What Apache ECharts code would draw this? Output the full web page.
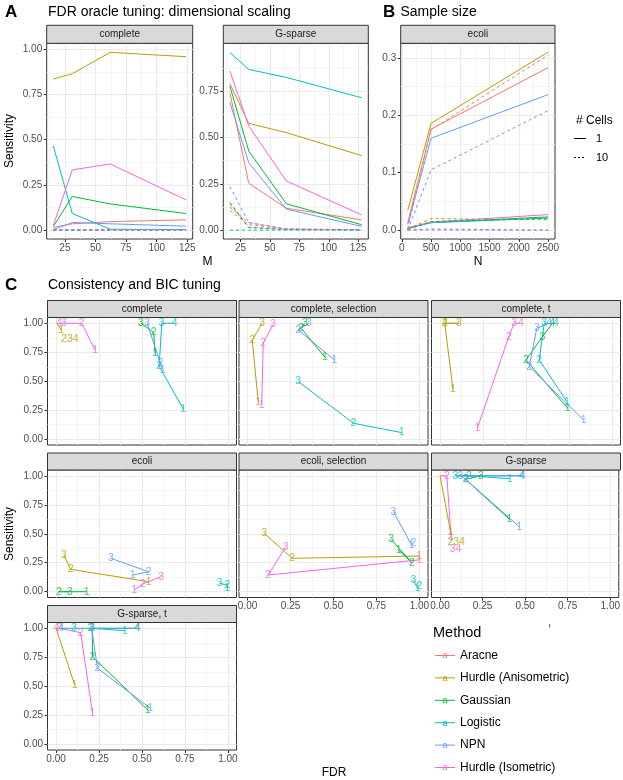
<!DOCTYPE html>
<html><head><meta charset="utf-8">
<script src="https://cdn.jsdelivr.net/npm/echarts@6/dist/echarts.min.js"></script>
<style>html,body{margin:0;padding:0;background:#fff}#c{width:623px;height:780px}</style>
</head><body><div id="c"></div>
<script>
const FONT = "'Liberation Sans', Arial, Helvetica, sans-serif";
const methods = ['Aracne', 'Hurdle (Anisometric)', 'Gaussian', 'Logistic', 'NPN', 'Hurdle (Isometric)'];
const colors = ['#F8766D', '#B79F00', '#00BA38', '#00BFC4', '#619CFF', '#F564E3'];

// ---- Panel A: FDR oracle tuning (x = M) ----
const mComplete = [15.5, 31, 62, 124];
const mSparse = [16, 32, 64, 128];
const aComplete1 = [
  [0.015, 0.035, 0.047, 0.057],
  [0.835, 0.865, 0.983, 0.959],
  [0.02, 0.186, 0.145, 0.092],
  [0.466, 0.092, 0.005, 0.003],
  [0.003, 0.042, 0.035, 0.022],
  [0.025, 0.333, 0.366, 0.167]
];
const aComplete10 = [
  [0.002, 0.003, 0.002, 0.002],
  [0.001, 0.001, 0.001, 0.001],
  [0, 0, 0, 0],
  [0, 0, 0, 0],
  [0.001, 0.002, 0.001, 0.001],
  [0.002, 0.002, 0.001, 0.001]
];
const aSparse1 = [
  [0.741, 0.253, 0.118, 0.055],
  [0.79, 0.576, 0.526, 0.402],
  [0.777, 0.427, 0.142, 0.029],
  [0.958, 0.867, 0.824, 0.714],
  [0.689, 0.364, 0.113, 0.02],
  [0.858, 0.562, 0.265, 0.082]
];
const aSparse10 = [
  [0.124, 0.04, 0.007, 0.003],
  [0.14, 0.015, 0.004, 0.001],
  [0.149, 0.014, 0.003, 0.001],
  [0, 0, 0, 0],
  [0.235, 0.041, 0.005, 0.001],
  [0.105, 0.03, 0.005, 0.002]
];

// ---- Panel B: sample size (x = N) ----
const nSizes = [100, 500, 2500];
const bEcoli1 = [
  [0.013, 0.176, 0.283],
  [0.034, 0.186, 0.31],
  [0.004, 0.013, 0.023],
  [0.003, 0.013, 0.021],
  [0.01, 0.16, 0.236],
  [0.004, 0.014, 0.027]
];
const bEcoli10 = [
  [0.002, 0.175, 0.305],
  [0.002, 0.02, 0.018],
  [0.001, 0.015, 0.02],
  [0, 0.002, 0],
  [0, 0.105, 0.208],
  [0, 0, 0]
];

// ---- Panel C: consistency and BIC tuning, points [FDR, Sensitivity, label] ----
const cPanelNames = ['complete', 'complete, selection', 'complete, t', 'ecoli', 'ecoli, selection', 'G-sparse', 'G-sparse, t'];
const cComplete = [
  [],
  [[0.03, 0.94, '1'], [0.005, 1.0, '']],
  [[0.576, 0.74, '1'], [0.568, 0.92, '2'], [0.494, 1.0, '3']],
  [[0.74, 0.26, '1'], [0.6, 0.63, '2'], [0.615, 1.0, '3'], [0.69, 1.0, '4']],
  [[0.62, 0.6, '1'], [0.607, 0.655, '2'], [0.53, 1.0, '3']],
  [[0.227, 0.77, '1'], [0.149, 1.0, '2'], [0.046, 1.0, '3'], [0.017, 1.0, '4']]
];
const cCompleteSel = [
  [],
  [[0.062, 0.324, '1'], [0.027, 0.856, '2'], [0.085, 1.0, '3']],
  [[0.45, 0.707, '1'], [0.31, 0.96, '2'], [0.334, 1.0, '3']],
  [[0.897, 0.057, '1'], [0.616, 0.138, '2'], [0.295, 0.497, '3']],
  [[0.505, 0.684, '1'], [0.295, 0.942, '2'], [0.357, 1.0, '3']],
  [[0.082, 0.296, '1'], [0.091, 0.83, '2'], [0.149, 0.99, '3']]
];
const cCompleteT = [
  [],
  [[0.075, 0.43, '1'], [0.027, 1.0, '2'], [0.11, 1.0, '3'], [0.027, 1.0, '4']],
  [[0.742, 0.267, '1'], [0.5, 0.684, '2'], [0.596, 0.885, '3'], [0.654, 1.0, '4']],
  [[0.738, 0.324, '1'], [0.577, 0.684, '2'], [0.606, 1.0, '3'], [0.674, 1.0, '4']],
  [[0.835, 0.166, '1'], [0.518, 0.626, '2'], [0.563, 0.957, '3'], [0.635, 1.0, '4']],
  [[0.217, 0.095, '1'], [0.40, 0.885, '2'], [0.431, 1.0, '3'], [0.47, 1.0, '4']]
];
const cEcoli = [
  [],
  [[0.539, 0.086, '1'], [0.085, 0.193, '2'], [0.046, 0.316, '3']],
  [[0.178, 0.0, '1'], [0.016, 0.0, '2'], [0.08, 0.0, '3']],
  [[0.997, 0.03, '1'], [0.997, 0.058, '2'], [0.952, 0.072, '3']],
  [[0.446, 0.144, '1'], [0.539, 0.172, '2'], [0.319, 0.288, '3']],
  [[0.455, 0.015, '1'], [0.504, 0.066, '2'], [0.611, 0.13, '3']]
];
const cEcoliSel = [
  [],
  [[1.0, 0.308, '1'], [0.26, 0.288, '2'], [0.097, 0.503, '3']],
  [[0.88, 0.36, '1'], [0.956, 0.25, '2'], [0.835, 0.452, '3']],
  [[0.99, 0.03, '1'], [1.0, 0.045, '2'], [0.965, 0.1, '3']],
  [[0.955, 0.4, '1'], [0.965, 0.417, '2'], [0.849, 0.69, '3']],
  [[1.0, 0.275, '1'], [0.12, 0.144, '2'], [0.221, 0.383, '3']]
];
const cSparse = [
  [],
  [[0.062, 0.517, '1'], [0.0, 1.0, '']],
  [[0.408, 0.624, '1'], [0.15, 0.97, '2'], [0.24, 1.0, '3']],
  [[0.41, 0.975, '1'], [0.17, 1.0, '2'], [0.09, 1.0, '3'], [0.48, 1.0, '4']],
  [[0.466, 0.56, '1'], [0.15, 0.97, '2'], [0.12, 1.0, '3'], [0.485, 1.0, '4']],
  [[0.065, 0.47, '1'], [0.04, 1.0, '2'], [0.0, 1.0, '']]
];
const cSparseT = [
  [],
  [[0.108, 0.511, '1'], [0.0, 1.0, '']],
  [[0.533, 0.296, '1'], [0.212, 0.755, '2'], [0.21, 1.0, '3'], [0.475, 1.0, '4']],
  [[0.40, 0.98, '1'], [0.2, 1.0, '2'], [0.104, 1.0, '3'], [0.03, 1.0, '4']],
  [[0.549, 0.31, '1'], [0.241, 0.655, '2'], [0.207, 1.0, '3'], [0.47, 1.0, '4']],
  [[0.212, 0.267, '1'], [0.143, 0.962, '2'], [0.02, 1.0, '3'], [0.0, 1.0, '4']]
];
const cPanels = [cComplete, cCompleteSel, cCompleteT, cEcoli, cEcoliSel, cSparse, cSparseT];
// [panel, method, FDR, Sensitivity, text]
const cExtraLabels = [[0, 1, 0.08, 0.86, '234'], [5, 1, 0.095, 0.43, '234'], [5, 5, 0.091, 0.366, '34']];

// ---- tick labels ----
const mTicks = [25, 50, 75, 100, 125];
const mMinor = [12.5, 37.5, 62.5, 87.5, 112.5];
const nTicks = [0, 500, 1000, 1500, 2000, 2500];
const nMinor = [250, 750, 1250, 1750, 2250];
const sensTicks = [0, 0.25, 0.5, 0.75, 1];
const sensMinor = [0.125, 0.375, 0.625, 0.875];
const bSensTicks = [0, 0.1, 0.2, 0.3];
const bSensMinor = [0.05, 0.15, 0.25];
const fdrTicks = [0, 0.25, 0.5, 0.75, 1];
const fdrMinor = [0.125, 0.375, 0.625, 0.875];

const grids = [], xAxes = [], yAxes = [], series = [], graphics = [];

function txt(x, y, s, size, opts) {
  opts = opts || {};
  graphics.push({
    type: 'text', x: x, y: y, rotation: opts.rot || 0, z: 100,
    style: {
      text: s, fill: opts.fill || '#000', fontSize: size, fontFamily: FONT,
      fontWeight: opts.bold ? 'bold' : 'normal',
      align: opts.align || 'left', verticalAlign: 'middle'
    }
  });
}

function axisPair(dim, g, r, showLab) {
  const pos = dim === 'x' ? 'bottom' : 'left';
  return [{
    type: 'value', gridIndex: g, min: r.min, max: r.max, position: pos,
    axisLine: { show: false, onZero: false },
    axisTick: { show: showLab, length: 3, customValues: r.ticks, lineStyle: { color: '#333333', width: 1 } },
    axisLabel: { show: showLab, customValues: r.ticks, formatter: v => v.toFixed(r.dec),
      color: '#4D4D4D', fontSize: 10, fontFamily: FONT, margin: dim === 'x' ? 4 : 4.5 },
    splitLine: { show: true, lineStyle: { color: '#EBEBEB', width: 1 } }
  }, {
    type: 'value', gridIndex: g, min: r.min, max: r.max, position: pos,
    axisLine: { show: false, onZero: false },
    axisTick: { show: false, customValues: r.minor },
    axisLabel: { show: false, customValues: r.minor },
    splitLine: { show: true, lineStyle: { color: '#F3F3F3', width: 0.8 } }
  }];
}

function addGrid(box, xr, yr, showX, showY, strip, stripH) {
  const g = grids.length;
  grids.push({ left: box.left, top: box.top, width: box.width, height: box.height,
    show: true, borderColor: '#333333', borderWidth: 1, backgroundColor: '#fff' });
  xAxes.push(...axisPair('x', g, xr, showX));
  yAxes.push(...axisPair('y', g, yr, showY));
  graphics.push({ type: 'rect', z: 100,
    shape: { x: box.left, y: box.top - stripH, width: box.width, height: stripH },
    style: { fill: '#D9D9D9', stroke: '#333333', lineWidth: 1 } });
  txt(box.left + box.width / 2, box.top - stripH / 2, strip, 10, { align: 'center', fill: '#1A1A1A' });
  return g;
}

function lineSeries(g, xs, vals, color, dashed) {
  series.push({
    type: 'line', xAxisIndex: 2 * g, yAxisIndex: 2 * g, symbol: 'none', silent: true,
    data: xs.map((x, i) => [x, vals[i]]),
    lineStyle: { color: color, width: 1, type: dashed ? [3, 3] : 'solid' }, z: 3
  });
}

// ---- Panel A & B grids ----
const gA1 = addGrid({ left: 46.7, top: 43.3, width: 146, height: 195.7 },
  { min: 10.1, max: 129.4, ticks: mTicks, minor: mMinor, dec: 0 },
  { min: -0.049, max: 1.033, ticks: sensTicks, minor: sensMinor, dec: 2 }, true, true, 'complete', 18);
const gA2 = addGrid({ left: 223.3, top: 43.3, width: 145, height: 195.7 },
  { min: 10.4, max: 133.6, ticks: mTicks, minor: mMinor, dec: 0 },
  { min: -0.048, max: 1.008, ticks: sensTicks.slice(0, 4), minor: sensMinor, dec: 2 }, true, true, 'G-sparse', 18);
const gB = addGrid({ left: 400.7, top: 43.3, width: 154.3, height: 195.7 },
  { min: -20, max: 2620, ticks: nTicks, minor: nMinor, dec: 0 },
  { min: -0.0155, max: 0.3255, ticks: bSensTicks, minor: bSensMinor, dec: 1 }, true, true, 'ecoli', 18);

for (let i = 0; i < 6; i++) {
  lineSeries(gA1, mComplete, aComplete1[i], colors[i], false);
  lineSeries(gA2, mSparse, aSparse1[i], colors[i], false);
  lineSeries(gB, nSizes, bEcoli1[i], colors[i], false);
}
for (let i = 0; i < 6; i++) {
  lineSeries(gA1, mComplete, aComplete10[i], colors[i], true);
  lineSeries(gA2, mSparse, aSparse10[i], colors[i], true);
  lineSeries(gB, nSizes, bEcoli10[i], colors[i], true);
}

// ---- Panel C grids ----
const colX = [47.5, 239, 431.5], colW = 189;
const rowY = [317.5, 470, 622.5], rowH = 127.5;
const cPos = [[0, 0], [0, 1], [0, 2], [1, 0], [1, 1], [1, 2], [2, 0]];
const showXLab = [false, false, false, false, true, true, true];
const cGrids = cPos.map((rc, k) => addGrid(
  { left: colX[rc[1]], top: rowY[rc[0]], width: colW, height: rowH },
  { min: -0.05, max: 1.05, ticks: fdrTicks, minor: fdrMinor, dec: 2 },
  { min: -0.05, max: 1.05, ticks: sensTicks, minor: sensMinor, dec: 2 },
  showXLab[k], rc[1] === 0, cPanelNames[k], 17));

cPanels.forEach((panel, k) => {
  const g = cGrids[k];
  panel.forEach((pts, i) => {
    if (!pts.length) return;
    series.push({ type: 'line', xAxisIndex: 2 * g, yAxisIndex: 2 * g, symbol: 'none', silent: true,
      data: pts.map(p => [p[0], p[1]]), lineStyle: { color: colors[i], width: 1 }, z: 3 });
  });
});
function labelSeries(g, color, pts) {
  series.push({ type: 'scatter', xAxisIndex: 2 * g, yAxisIndex: 2 * g, symbol: 'circle', symbolSize: 0.1,
    silent: true, itemStyle: { color: 'rgba(0,0,0,0)' }, z: 5,
    data: pts.map(p => [p[0], p[1], p[2]]),
    label: { show: true, position: 'inside', formatter: q => q.value[2], color: color,
      fontSize: 10.5, fontFamily: FONT } });
}
cPanels.forEach((panel, k) => {
  panel.forEach((pts, i) => {
    const lab = pts.filter(p => p[2] !== '');
    if (lab.length) labelSeries(cGrids[k], colors[i], lab);
  });
});
cExtraLabels.forEach(e => labelSeries(cGrids[e[0]], colors[e[1]], [[e[2], e[3], e[4]]]));

// ---- Titles and axis titles ----
txt(5, 12, 'A', 17, { bold: true });
txt(48, 12, 'FDR oracle tuning: dimensional scaling', 14);
txt(383, 12, 'B', 17, { bold: true });
txt(400.5, 12, 'Sample size', 14);
txt(5, 285, 'C', 17, { bold: true });
txt(48, 285, 'Consistency and BIC tuning', 14);
txt(10, 141, 'Sensitivity', 12, { align: 'center', rot: Math.PI / 2 });
txt(10, 534, 'Sensitivity', 12, { align: 'center', rot: Math.PI / 2 });
txt(207.5, 262, 'M', 12, { align: 'center' });
txt(478, 262, 'N', 12, { align: 'center' });
txt(334, 773, 'FDR', 12, { align: 'center' });

// ---- # Cells legend ----
txt(576, 121, '# Cells', 12);
graphics.push({ type: 'line', z: 100, shape: { x1: 574, y1: 138.5, x2: 586, y2: 138.5 }, style: { stroke: '#000', lineWidth: 1 } });
graphics.push({ type: 'line', z: 100, shape: { x1: 574, y1: 157.5, x2: 586, y2: 157.5 }, style: { stroke: '#000', lineWidth: 1, lineDash: [2, 2] } });
txt(596, 138.5, '1', 11);
txt(596, 157.5, '10', 11);

// ---- Method legend ----
txt(433, 633, 'Method', 14.5);
methods.forEach((m, i) => {
  const y = 655.5 + i * 22.4;
  graphics.push({ type: 'line', z: 100, shape: { x1: 435, y1: y, x2: 455, y2: y }, style: { stroke: colors[i], lineWidth: 1 } });
  txt(445, y + 0.5, 'a', 9, { align: 'center', fill: colors[i] });
  txt(460, y, m, 12);
});
graphics.push({ type: 'line', z: 100, shape: { x1: 549.7, y1: 624, x2: 549.7, y2: 627.5 }, style: { stroke: '#555', lineWidth: 1 } });

const chart = echarts.init(document.getElementById('c'), null, { renderer: 'canvas' });
chart.setOption({
  animation: false,
  backgroundColor: '#ffffff',
  grid: grids, xAxis: xAxes, yAxis: yAxes, series: series, graphic: graphics
});
</script></body></html>
